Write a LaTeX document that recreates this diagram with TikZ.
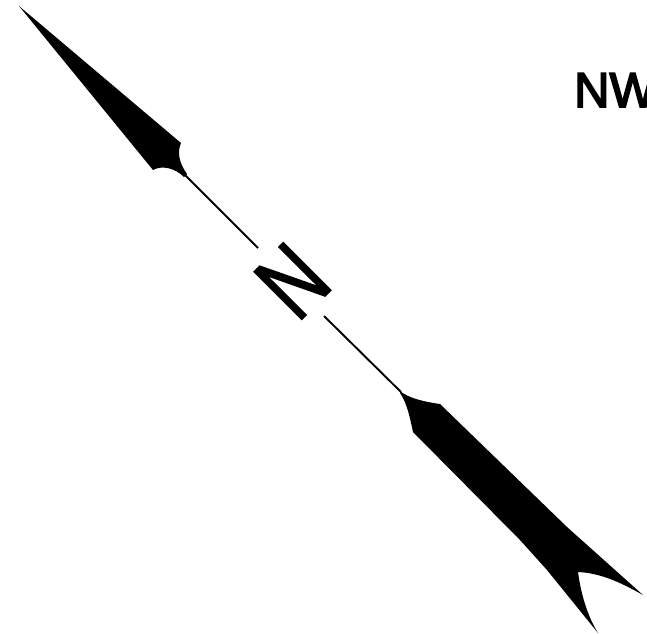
\documentclass[tikz,border=0pt]{standalone}
\usepackage{fontspec}
\setmainfont{Liberation Sans}
\newfontfamily\heavyfont[FakeBold=2]{Liberation Sans}
\newfontfamily\mediumfont[FakeBold=3.5]{Liberation Sans}
\begin{document}
\begin{tikzpicture}[x=1pt,y=-1pt,
  blade/.style={fill=black,draw=none},
  shaft/.style={draw=black,line width=1.9pt}]
\useasboundingbox (0,0) rectangle (647,633);
\clip (0,0) rectangle (647,633);
\fill[white] (0,0) rectangle (647,633);
% upper (pointed) blade
\fill[blade] (19,6) -- (181,143) .. controls (177,152) and (179,163) .. (187,174)
  -- (184,177) .. controls (175,168) and (162,165) .. (153,170) -- cycle;
% lower (tail) blade
\fill[blade] (400,391) .. controls (408,398) and (425,402) .. (440,404)
  -- (567,527) -- (643,595) .. controls (620,582) and (600,573) .. (578,572)
  .. controls (581,595) and (588,617) .. (598,633)
  -- (547,570) -- (520,540) -- (413,432)
  .. controls (410,418) and (407,403) .. (400,393) -- cycle;
% shafts
\coordinate (a1) at (185,175); \coordinate (a2) at (258,248);
\coordinate (b1) at (324,316); \coordinate (b2) at (401,392);
\draw[shaft] (a1) -- (a2);
\draw[shaft] (b1) -- (b2);
% labels
\node[rotate=45,font=\heavyfont\fontsize{97}{97}\selectfont,inner sep=0pt] (n) at (292.5,281) {\scalebox{0.76}[1]{N}};
\node[anchor=base west,font=\mediumfont\fontsize{49}{49}\selectfont,inner sep=0pt] (nw) at (574,107) {NW};
\end{tikzpicture}
\end{document}
